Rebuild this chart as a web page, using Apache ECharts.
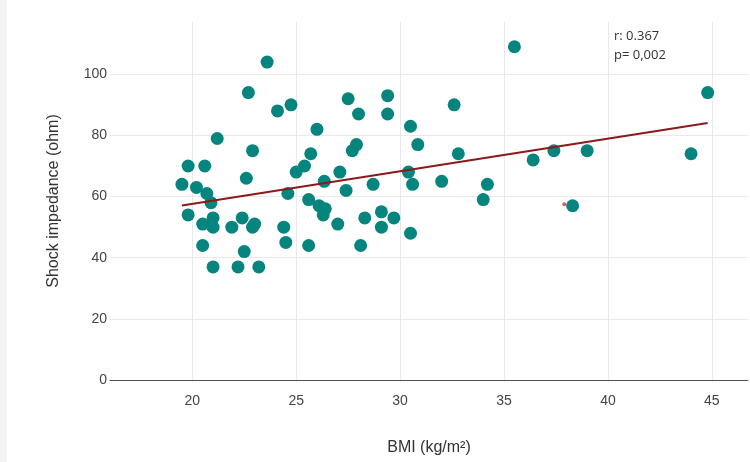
<!DOCTYPE html>
<html lang="en">
<head>
    <meta charset="UTF-8">
    <title>BMI vs shock impedance</title>
    <style>
        *{
            margin: 0;
            padding: 0;
        }
        body{
            background: #FFFFFF;
        }
        #chart{
            width: 750px;
            height: 462px;
        }
    </style>
</head>
<body>
<div id="chart"></div>
<script src="https://cdn.jsdelivr.net/npm/echarts@6/dist/echarts.min.js"></script>
<script>
    // BMI (kg/m2) and shock impedance (ohm) per patient
    let bmi = [23.6, 22.7, 24.1, 21.2, 22.9, 19.8, 20.6, 22.6, 19.5, 20.2,
        20.7, 20.9, 19.8, 20.5, 21.0, 21.0, 21.9, 22.4, 22.9, 23.0,
        20.5, 22.5, 21.0, 22.2, 23.2, 24.4, 24.5, 24.6, 24.75, 27.5,
        29.4, 28.0, 29.4, 26.0, 27.9, 27.7, 25.7, 25.4, 25.0, 27.1,
        26.35, 28.7, 27.4, 25.6, 26.1, 26.4, 26.3, 27.0, 28.3, 29.1,
        29.7, 29.1, 25.6, 28.1, 30.5, 30.85, 32.8, 32.6, 30.4, 30.6,
        32.0, 34.2, 34.0, 30.5, 35.5, 36.4, 37.4, 39.0, 38.3, 44.8, 44.0];
    let impedance = [104, 94, 88, 79, 75, 70, 70, 66, 64, 63,
        61, 58, 54, 51, 53, 50, 50, 53, 50, 51,
        44, 42, 37, 37, 37, 50, 45, 61, 90, 92,
        93, 87, 87, 82, 77, 75, 74, 70, 68, 68,
        65, 64, 62, 59, 57, 56, 54, 51, 53, 55,
        53, 50, 44, 44, 83, 77, 74, 90, 68, 64,
        65, 64, 59, 48, 109, 72, 75, 75, 57, 94, 74];
    // fitted line end points
    let fitX = [19.5, 44.8];
    let fitY = [57.1, 84.1];
    // small red mark near 38
    let redDot = [[37.9, 57.5]];
    let xTicks = [20, 25, 30, 35, 40, 45];
    let yTicks = [0, 20, 40, 60, 80, 100];

    let points = [];
    for(let i = 0;i<bmi.length;i++){
        points.push([bmi[i], impedance[i]]);
    }
    let fit = [];
    for(let i = 0;i<fitX.length;i++){
        fit.push([fitX[i], fitY[i]]);
    }

    let myChart = echarts.init(document.getElementById('chart'));
    myChart.setOption({
        animation: false,
        textStyle: {
            fontFamily: 'Liberation Sans'
        },
        grid: {
            left: 110,
            right: 2,
            top: 22,
            bottom: 82
        },
        graphic: [
            {
                type: 'rect',
                left: 0,
                top: 0,
                shape: {width: 7, height: 462},
                style: {fill: '#F2F3F5'},
                silent: true
            },
            {
                type: 'text',
                left: 614,
                top: 27,
                style: {
                    text: 'r: 0.367\np= 0,002',
                    fontFamily: 'Open Sans',
                    fontSize: 13,
                    lineHeight: 19,
                    fill: '#333333'
                }
            }
        ],
        xAxis: {
            type: 'value',
            min: 16.04,
            max: 46.74,
            name: 'BMI (kg/m²)',
            nameLocation: 'middle',
            nameGap: 60,
            nameTextStyle: {
                fontSize: 16,
                color: '#333333'
            },
            axisLine: {
                lineStyle: {color: '#555555', width: 1}
            },
            axisTick: {
                show: false,
                customValues: xTicks
            },
            axisLabel: {
                customValues: xTicks,
                fontSize: 14,
                color: '#444444',
                margin: 14
            },
            splitLine: {
                show: true,
                lineStyle: {color: '#E9E9E9'}
            }
        },
        yAxis: {
            type: 'value',
            min: 0,
            max: 117.1,
            name: 'Shock impedance (ohm)',
            nameLocation: 'middle',
            nameGap: 48,
            nameTextStyle: {
                fontSize: 16,
                color: '#333333'
            },
            axisLine: {show: false},
            axisTick: {
                show: false,
                customValues: yTicks
            },
            axisLabel: {
                customValues: yTicks,
                fontSize: 14,
                color: '#444444',
                margin: 3
            },
            splitLine: {
                show: true,
                lineStyle: {color: '#E9E9E9'}
            }
        },
        series: [
            {
                type: 'scatter',
                data: points,
                symbolSize: 13,
                itemStyle: {
                    color: '#06847E',
                    opacity: 1
                },
                z: 2
            },
            {
                type: 'line',
                data: fit,
                symbol: 'none',
                lineStyle: {
                    color: '#8B1A1A',
                    width: 2
                },
                z: 3
            },
            {
                type: 'scatter',
                data: redDot,
                symbolSize: 4,
                itemStyle: {color: '#E03030'},
                z: 1
            }
        ]
    });
</script>
</body>
</html>
